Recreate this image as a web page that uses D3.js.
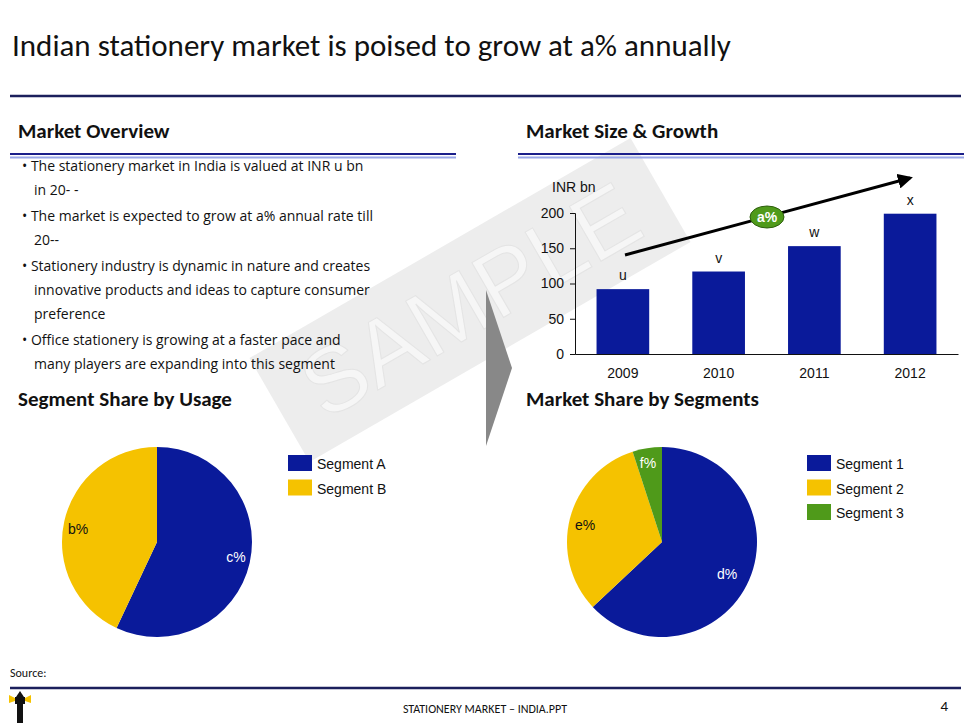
<!DOCTYPE html>
<html><head><meta charset="utf-8">
<script src="https://cdn.jsdelivr.net/npm/d3@7"></script>
<style>body{margin:0;background:#fff}svg{display:block}</style>
</head><body><div id="chart"></div>
<script>
// data
const years = ["2009", "2010", "2011", "2012"];
const sizes = [92, 117, 153, 199];
const sizeLabels = ["u", "v", "w", "x"];
const yTicks = [0, 50, 100, 150, 200];
const usageNames = ["Segment A", "Segment B"];
const usageShares = [57, 43];
const usageLabels = ["c%", "b%"];
const segNames = ["Segment 1", "Segment 2", "Segment 3"];
const segShares = [63, 32, 5];
const segLabels = ["d%", "e%", "f%"];
const bullets = [
  ["• The stationery market  in India is valued at INR u bn", "in 20- -"],
  ["• The market is expected to grow at a% annual rate till", "20--"],
  ["• Stationery industry is dynamic in nature and creates", "innovative products and ideas to capture consumer", "preference"],
  ["• Office stationery is growing at a faster pace and", "many players are expanding into this segment"]
];
const pieColors = ["#0a1a9a", "#f5c200", "#4f9a1a"];

const W = 971, H = 728;
const svg = d3.select("#chart").append("svg").attr("width", W).attr("height", H);
const cal = "Carlito, 'Open Sans', sans-serif";
const ar = "'Liberation Sans', Arial, sans-serif";

// watermark
const wm = svg.append("g").attr("transform", "translate(470,300) rotate(-30)");
wm.append("rect").attr("x", -220).attr("y", -60).attr("width", 440).attr("height", 120).attr("fill", "#ededed");
wm.append("text").attr("text-anchor", "middle").attr("y", 32).style("font-family", ar)
  .style("font-size", "92px").attr("fill", "#f6f6f6").attr("stroke", "#e4e4e4").text("SAMPLE");

// title
svg.append("text").attr("x", 12).attr("y", 56).style("font-family", cal).style("font-size", "31px")
  .attr("fill", "#111").text("Indian stationery market is poised to grow at a% annually");
svg.append("line").attr("x1", 10).attr("x2", 961).attr("y1", 96).attr("y2", 96).attr("stroke", "#1b1f5c").attr("stroke-width", 2.5);

function header(x, y, w, t) {
  svg.append("text").attr("x", x + 8).attr("y", y).style("font-family", cal).style("font-size", "21px")
    .style("font-weight", "700").attr("fill", "#111").text(t);
  if (!w) return;
  svg.append("line").attr("x1", x).attr("x2", x + w).attr("y1", y + 16).attr("y2", y + 16).attr("stroke", "#1b1f8a").attr("stroke-width", 2);
  svg.append("line").attr("x1", x).attr("x2", x + w).attr("y1", y + 19.5).attr("y2", y + 19.5).attr("stroke", "#9aa8e8").attr("stroke-width", 2);
}
header(10, 138, 446, "Market Overview");
header(518, 138, 446, "Market Size & Growth");
header(10, 406, 0, "Segment Share by Usage");
header(518, 406, 0, "Market Share by Segments");

// bullets
let by = 171;
bullets.forEach(b => {
  b.forEach((l, i) => {
    svg.append("text").attr("x", i ? 34 : 22).attr("y", by).style("font-family", "'Open Sans', sans-serif").style("font-size", "14px")
      .attr("fill", "#111").text(l);
    by += 24;
  });
  by += 2;
});

// chevron
svg.append("path").attr("d", "M486,290 L512,368 L486,446 Z").attr("fill", "#888");

// bar chart
const x = d3.scaleBand().domain(years).range([575, 958]).paddingInner(0.45).paddingOuter(0.225);
const y = d3.scaleLinear().domain([0, 200]).range([354, 213]);
const g = svg.append("g").style("font-family", ar);
const ya = g.append("g").attr("transform", "translate(575,0)").call(d3.axisLeft(y).tickValues(yTicks).tickSize(5).tickPadding(6));
const xa = g.append("g").attr("transform", "translate(0,354)").call(d3.axisBottom(x).tickSize(0).tickPadding(14));
[ya, xa].forEach(a => { a.selectAll("text").style("font-size", "14px").attr("fill", "#111").style("font-family", ar); a.selectAll("line,path").attr("stroke", "#111"); });
g.selectAll("rect.bar").data(years).join("rect").attr("x", d => x(d)).attr("width", x.bandwidth())
  .attr("y", (d, i) => y(sizes[i])).attr("height", (d, i) => 354 - y(sizes[i])).attr("fill", "#0a1a9a");
g.selectAll("text.lbl").data(years).join("text").attr("x", d => x(d) + x.bandwidth() / 2)
  .attr("y", (d, i) => y(sizes[i]) - 9).attr("text-anchor", "middle").style("font-size", "14px").attr("fill", "#111")
  .text((d, i) => sizeLabels[i]);
g.append("text").attr("x", 552).attr("y", 192).style("font-size", "14px").attr("fill", "#111").text("INR bn");
svg.append("defs").append("marker").attr("id", "ah").attr("viewBox", "0 0 10 10").attr("refX", 8).attr("refY", 5)
  .attr("markerWidth", 5).attr("markerHeight", 5).attr("orient", "auto").append("path").attr("d", "M0,0 L10,5 L0,10 Z").attr("fill", "#000");
g.append("line").attr("x1", 625).attr("y1", 255).attr("x2", 910).attr("y2", 178).attr("stroke", "#000").attr("stroke-width", 3).attr("marker-end", "url(#ah)");
g.append("ellipse").attr("cx", 767).attr("cy", 217).attr("rx", 17).attr("ry", 11).attr("fill", "#4f9a1a").attr("stroke", "#2d5e0c");
g.append("text").attr("x", 767).attr("y", 222).attr("text-anchor", "middle").style("font-size", "14px").style("font-weight", "700").attr("fill", "#fff").text("a%");

// pies
function pie(cx, cy, vals, labels, names, lx, lblPos) {
  const arcs = d3.pie().sort(null)(vals);
  const arc = d3.arc().innerRadius(0).outerRadius(95);
  const pg = svg.append("g").attr("transform", `translate(${cx},${cy})`).style("font-family", ar);
  pg.selectAll("path").data(arcs).join("path").attr("d", arc).attr("fill", (d, i) => pieColors[i]);
  pg.selectAll("text").data(arcs).join("text").attr("x", (d, i) => lblPos[i][0]).attr("y", (d, i) => lblPos[i][1])
    .attr("text-anchor", "middle").style("font-size", "14px").attr("fill", (d, i) => i === 1 ? "#111" : "#fff").text((d, i) => labels[i]);
  names.forEach((n, i) => {
    svg.append("rect").attr("x", lx).attr("y", 455 + i * 24.5).attr("width", 24).attr("height", 16).attr("fill", pieColors[i]);
    svg.append("text").attr("x", lx + 29).attr("y", 469 + i * 24.5).style("font-family", ar).style("font-size", "14px").attr("fill", "#111").text(n);
  });
}
pie(157, 542, usageShares, usageLabels, usageNames, 288, [[79, 20], [-79, -8]]);
pie(662, 542, segShares, segLabels, segNames, 807, [[65, 37], [-77, -12], [-14, -74]]);

// footer
svg.append("text").attr("x", 10).attr("y", 677).style("font-family", cal).style("font-size", "12px").attr("fill", "#111").text("Source:");
svg.append("line").attr("x1", 10).attr("x2", 961).attr("y1", 688).attr("y2", 688).attr("stroke", "#1b1f5c").attr("stroke-width", 2.5);
svg.append("text").attr("x", 485).attr("y", 713).attr("text-anchor", "middle").style("font-family", cal).style("font-size", "12px").attr("fill", "#111").text("STATIONERY MARKET – INDIA.PPT");
svg.append("text").attr("x", 948).attr("y", 711).attr("text-anchor", "end").style("font-family", cal).style("font-size", "15px").attr("fill", "#111").text("4");
// logo
const lg = svg.append("g");
lg.append("rect").attr("x", 17).attr("y", 704).attr("width", 6).attr("height", 19).attr("fill", "#111");
lg.append("rect").attr("x", 15).attr("y", 697).attr("width", 10).attr("height", 7).attr("fill", "#111");
lg.append("path").attr("d", "M9,695 L15,698 L15,701 L9,703 Z M31,695 L25,698 L25,701 L31,703 Z").attr("fill", "#f5c200");
lg.append("path").attr("d", "M16,697 L20,691 L24,697 Z").attr("fill", "#111");
</script></body></html>
